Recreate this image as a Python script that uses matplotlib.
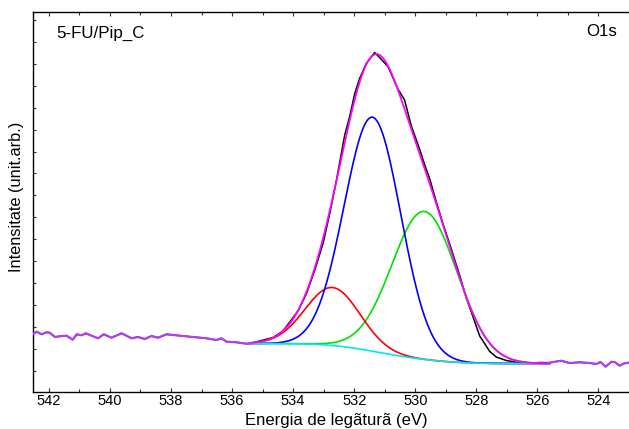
import math
import numpy as np
import matplotlib
matplotlib.use("Agg")
import matplotlib.pyplot as plt

plt.rcParams['font.family'] = ['Liberation Sans', 'DejaVu Sans']

# Measured O1s spectrum (binding energy eV, intensity arb.)
energy = [542.57, 542.40, 542.24, 542.08, 541.97, 541.80, 541.58, 541.42, 541.22, 541.09,
          540.93, 540.79, 540.60, 540.39, 540.20, 539.95, 539.62, 539.29, 539.08, 538.86,
          538.64, 538.42, 538.15, 537.71, 537.28, 536.84, 536.51, 536.35, 536.18, 535.86,
          535.53, 535.42, 535.09, 534.66, 534.33, 534.11, 533.84, 533.56, 533.29, 533.02,
          532.80, 532.58, 532.42, 532.31, 532.15, 531.98, 531.82, 531.60, 531.33, 531.17,
          530.89, 530.57, 530.35, 530.13, 529.86, 529.69, 529.53, 529.31, 529.09, 528.82,
          528.55, 528.33, 528.11, 527.89, 527.56, 527.35, 527.02, 526.69, 526.26, 525.90,
          525.60, 525.22, 524.95, 524.62, 524.29, 524.07, 523.93, 523.77, 523.57, 523.47,
          523.31, 523.15, 523.01]
intensity = [57.0, 60.3, 57.7, 59.7, 59.3, 55.0, 56.0, 56.3, 52.3, 57.7,
             56.7, 58.7, 56.3, 53.7, 57.7, 54.3, 58.7, 53.7, 55.0, 53.0,
             56.0, 54.3, 57.7, 56.3, 55.0, 53.7, 52.0, 53.7, 50.3, 49.7,
             48.3, 48.5, 51.0, 54.5, 61.0, 70.0, 81.0, 98.7, 122.0, 148.7,
             178.7, 212.0, 238.7, 257.0, 275.3, 298.7, 313.7, 328.7, 339.5, 334.5,
             325.3, 303.0, 292.0, 266.0, 243.0, 227.0, 213.5, 190.0, 168.0, 143.0,
             117.0, 94.0, 75.3, 56.0, 40.5, 35.0, 31.5, 29.8, 29.0, 29.5,
             29.3, 31.3, 29.0, 29.7, 29.0, 28.0, 30.0, 25.3, 30.3, 30.0,
             26.3, 28.7, 29.3]

# Fitted components (red, blue, green)
peak_centers = [532.71, 531.40, 529.70]
peak_heights = [58.0, 234.0, 148.0]
peak_fwhm = [2.10, 2.18, 2.52]
peak_colors = ['#ff0000', '#0000ff', '#00e000']

# Shirley background limits
fit_range = [535.42, 525.60]
bg_high = 48.5
bg_low = 28.5

x_ticks = [542, 540, 538, 536, 534, 532, 530, 528, 526, 524]

fig = plt.figure(figsize=(6.29, 4.29), dpi=100)
ax = fig.add_axes([33 / 629, 37 / 429, 596 / 629, 380 / 429])

E = np.linspace(fit_range[0], fit_range[1], 400)
erf = np.vectorize(math.erf)
sig = [f / 2.3548 for f in peak_fwhm]
areas = [h * s for h, s in zip(peak_heights, sig)]
cum = sum(a * 0.5 * (1 + erf((E - c) / (s * math.sqrt(2))))
          for a, c, s in zip(areas, peak_centers, sig))
bg = bg_low + (bg_high - bg_low) * cum / sum(areas)
comps = [h * np.exp(-(E - c) ** 2 / (2 * s ** 2))
         for h, c, s in zip(peak_heights, peak_centers, sig)]
envelope = bg + sum(comps)

en = np.array(energy)
it = np.array(intensity)
ax.plot(en, it, color='black', lw=1.1, zorder=2)

ax.plot(E, bg, color='#00e8e8', lw=1.2, zorder=4)
order = [2, 0, 1]
for i in order:
    ax.plot(E, bg + comps[i], color=peak_colors[i], lw=1.2, zorder=3)
ax.plot(E, envelope, color='#ff00ff', lw=1.3, zorder=5)

left = en >= fit_range[0]
right = en <= fit_range[1]
ax.plot(en[left], it[left], color='#b040f0', lw=1.6, zorder=5)
ax.plot(en[right], it[right], color='#b040f0', lw=1.6, zorder=5)

ax.set_xlim(542.52, 523.0)
ax.set_ylim(0, 380)
ax.set_xticks(x_ticks)
ax.set_xticklabels([str(t) for t in x_ticks], fontsize=10.5)
ax.set_xticks(np.arange(523, 543, 1), minor=True)
ax.set_yticks(21.5 + 21.9 * np.arange(17))
ax.set_yticklabels([])
ax.tick_params(axis='both', which='both', direction='in', length=2.5, width=0.8,
               top=True, right=False, pad=1.5, color='#333333')
ax.tick_params(axis='x', which='major', length=3)
ax.spines['right'].set_visible(False)
for s in ['left', 'top', 'bottom']:
    ax.spines[s].set_linewidth(1.0)

fig.text(336 / 629, 1 - 420 / 429, 'Energia de legãturã (eV)', ha='center', va='center',
         fontsize=12)
fig.text(17 / 629, 1 - 197 / 429, 'Intensitate (unit.arb.)', ha='center', va='center',
         rotation=90, fontsize=11.8)
fig.text(100 / 629, 1 - 33 / 429, '5-FU/Pip_C', ha='center', va='center', fontsize=12.2)
fig.text(602 / 629, 1 - 32 / 429, 'O1s', ha='center', va='center', fontsize=12.2)

fig.savefig('out.png', dpi=100)
